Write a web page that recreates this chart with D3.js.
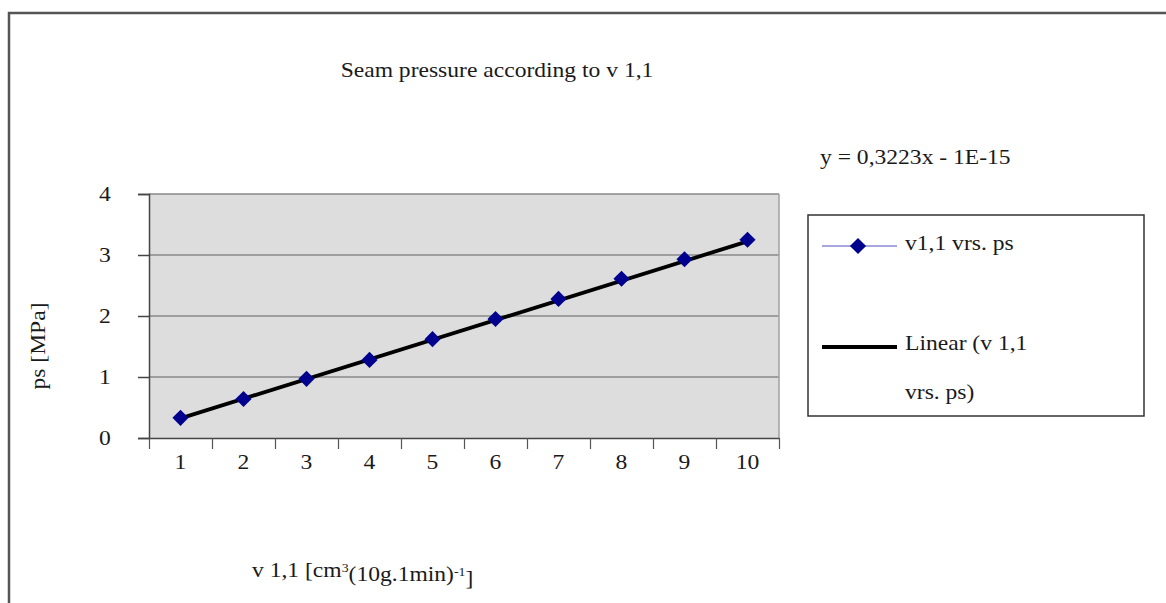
<!DOCTYPE html>
<html>
<head>
<meta charset="utf-8">
<script src="https://cdn.jsdelivr.net/npm/d3@7"></script>
<style>
  body { margin: 0; background: #fff; }
  text { font-family: "Liberation Serif", "Times New Roman", serif; fill: #1a1a1a; }
</style>
</head>
<body>
<svg id="chart" width="1166" height="603"></svg>
<script>
// Data
const categories = ["1", "2", "3", "4", "5", "6", "7", "8", "9", "10"];
const psValues = [0.33, 0.64, 0.97, 1.28, 1.62, 1.95, 2.28, 2.61, 2.93, 3.25];
const yTicks = [0, 1, 2, 3, 4];
const trendSlope = 0.3223;
const trendIntercept = 0;

const svg = d3.select("#chart");
const plot = { left: 149, right: 779, top: 194, bottom: 438 };
const SX = 1.15; // reference text is stretched horizontally
const fontSize = 20.5;

// helper for stretched text
function label(x, y, str, anchor) {
  return svg.append("text")
    .attr("transform", `translate(${x},${y}) scale(${SX},1)`)
    .attr("dy", "0.35em")
    .attr("text-anchor", anchor || "middle")
    .style("font-size", fontSize + "px")
    .text(str);
}

// Outer frame (top and left edges visible)
svg.append("path")
  .attr("d", "M9,603 L9,13 L1166,13")
  .attr("fill", "none")
  .attr("stroke", "#555")
  .attr("stroke-width", 2.5);

// Scales
const x = d3.scaleBand()
  .domain(categories)
  .range([plot.left, plot.right])
  .padding(0);

const y = d3.scaleLinear()
  .domain([0, 4])
  .range([plot.bottom, plot.top]);

// Plot background
svg.append("rect")
  .attr("x", plot.left)
  .attr("y", plot.top)
  .attr("width", plot.right - plot.left)
  .attr("height", plot.bottom - plot.top)
  .attr("fill", "#dddddd");

// Gridlines
svg.append("g")
  .selectAll("line")
  .data(yTicks.filter((d) => d > 0))
  .join("line")
  .attr("x1", plot.left)
  .attr("x2", plot.right)
  .attr("y1", (d) => y(d))
  .attr("y2", (d) => y(d))
  .attr("stroke", "#888")
  .attr("stroke-width", 1.7);

// Right edge of plot area
svg.append("line")
  .attr("x1", plot.right).attr("x2", plot.right)
  .attr("y1", plot.top).attr("y2", plot.bottom)
  .attr("stroke", "#a0a0a0")
  .attr("stroke-width", 1.5);

// Y axis
const yAxis = svg.append("g")
  .attr("transform", `translate(${plot.left},0)`)
  .call(d3.axisLeft(y).tickValues(yTicks).tickSize(11).tickFormat(""));
yAxis.select(".domain").attr("stroke", "#444").attr("stroke-width", 1.5);
yAxis.selectAll(".tick line").attr("stroke", "#444").attr("stroke-width", 1.5);

yTicks.forEach((t) => label(105, y(t), String(t)));

// X axis (ticks at category boundaries)
const xAxis = svg.append("g")
  .attr("transform", `translate(0,${plot.bottom})`)
  .call(
    d3.axisBottom(d3.scaleLinear().domain([0, categories.length]).range([plot.left, plot.right]))
      .ticks(categories.length)
      .tickSize(11)
      .tickSizeOuter(0)
      .tickFormat("")
  );
xAxis.select(".domain").attr("stroke", "#444").attr("stroke-width", 1.5);
xAxis.selectAll(".tick line").attr("stroke", "#555").attr("stroke-width", 1.2);

categories.forEach((c) => label(x(c) + x.bandwidth() / 2, 462, c));

// Trendline
const cx = (c) => x(c) + x.bandwidth() / 2;
const trendData = [categories[0], categories[categories.length - 1]].map((c) => ({
  c,
  v: trendSlope * +c + trendIntercept,
}));
svg.append("path")
  .datum(trendData)
  .attr("fill", "none")
  .attr("stroke", "#000")
  .attr("stroke-width", 3.8)
  .attr("d", d3.line().x((d) => cx(d.c)).y((d) => y(d.v)));

// Diamond markers
const diamond = d3.symbol().type(d3.symbolSquare).size(130);
svg.append("g")
  .selectAll("path")
  .data(categories.map((c, i) => ({ c, v: psValues[i] })))
  .join("path")
  .attr("d", diamond)
  .attr("transform", (d) => `translate(${cx(d.c)},${y(d.v)}) rotate(45)`)
  .attr("fill", "#00008f");

// Title
label(497, 70, "Seam pressure according to v 1,1");

// Trend equation
label(820, 157, "y = 0,3223x - 1E-15", "start");

// Axis titles
const xTitle = svg.append("text")
  .attr("transform", `translate(252,570) scale(${SX},1)`)
  .attr("dy", "0.35em")
  .style("font-size", fontSize + "px");
xTitle.append("tspan").text("v 1,1 [cm");
xTitle.append("tspan").attr("dy", "-0.45em").style("font-size", "12px").text("3");
xTitle.append("tspan").attr("dy", "0.45em").text("(10g.1min)");
xTitle.append("tspan").attr("dy", "-0.45em").style("font-size", "12px").text("-1");
xTitle.append("tspan").attr("dy", "0.45em").text("]");

svg.append("text")
  .attr("transform", `translate(38,346) rotate(-90) scale(${SX},1)`)
  .attr("dy", "0.35em")
  .attr("text-anchor", "middle")
  .style("font-size", fontSize + "px")
  .text("ps [MPa]");

// Legend
svg.append("rect")
  .attr("x", 808).attr("y", 215)
  .attr("width", 336).attr("height", 201)
  .attr("fill", "#fff")
  .attr("stroke", "#333")
  .attr("stroke-width", 1.5);

svg.append("line")
  .attr("x1", 822).attr("x2", 897)
  .attr("y1", 246).attr("y2", 246)
  .attr("stroke", "#8a8ad0")
  .attr("stroke-width", 1.5);
svg.append("path")
  .attr("d", diamond)
  .attr("transform", "translate(858,246) rotate(45)")
  .attr("fill", "#00008f");
label(905, 243, "v1,1 vrs. ps", "start");

svg.append("line")
  .attr("x1", 822).attr("x2", 897)
  .attr("y1", 347).attr("y2", 347)
  .attr("stroke", "#000")
  .attr("stroke-width", 3.8);
label(905, 343, "Linear (v 1,1", "start");
label(905, 392, "vrs. ps)", "start");
</script>
</body>
</html>
